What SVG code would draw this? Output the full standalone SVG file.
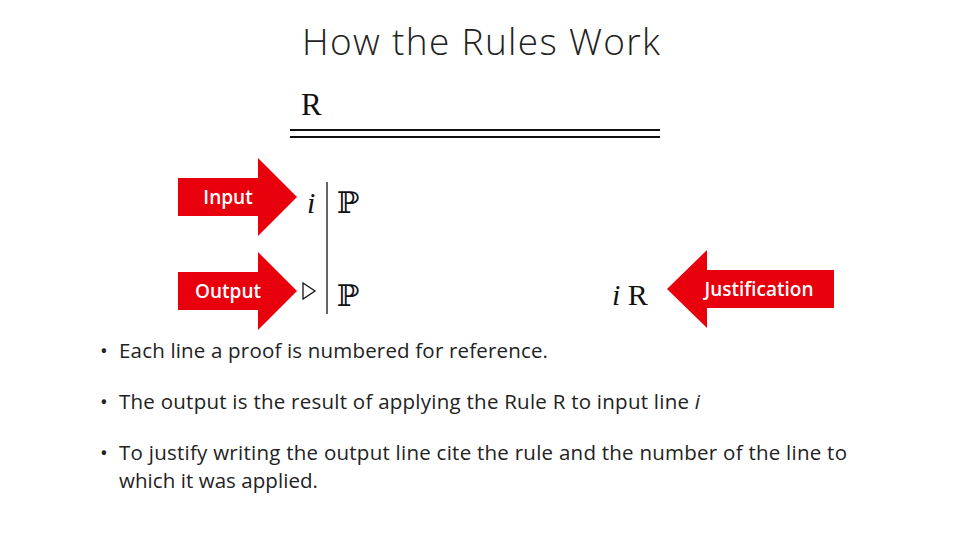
<svg xmlns="http://www.w3.org/2000/svg" width="960" height="540" viewBox="0 0 960 540">
<style>
.arrow{fill:#E8000D}
.lbl{font-family:"Open Sans","Liberation Sans",sans-serif;font-size:19px;font-weight:600;fill:#fff;text-anchor:middle}
.math{font-family:"Liberation Serif","DejaVu Serif",serif;fill:#111}
.body{font-family:"Open Sans","Liberation Sans",sans-serif;font-size:20.5px;fill:#222}
</style>
<rect width="960" height="540" fill="#fff"/>
<text x="481" y="55" text-anchor="middle" font-family="Open Sans, Liberation Sans, sans-serif" font-weight="300" font-size="37" fill="#222" textLength="358">How the Rules Work</text>
<g id="rule">
<text class="math" x="301" y="115" font-size="31">R</text>
<line x1="290" y1="130" x2="660" y2="130" stroke="#111" stroke-width="2"/>
<line x1="290" y1="137" x2="660" y2="137" stroke="#111" stroke-width="2"/>
</g>
<g id="proof">
<line x1="327" y1="182" x2="327" y2="314" stroke="#333" stroke-width="1.5"/>
<text class="math" x="307" y="213" font-size="30" font-style="italic">i</text>
<text class="math" x="337" y="213" font-size="30">ℙ</text>
<path d="M303 283 L315 291 L303 299 Z" fill="none" stroke="#111" stroke-width="1.3"/>
<text class="math" x="337" y="306" font-size="30">ℙ</text>
<text class="math" x="612" y="305" font-size="30"><tspan font-style="italic">i</tspan> R</text>
</g>
<g id="input">
<path class="arrow" d="M178 178 H258 V158 L297 197 L258 236 V216 H178 Z"/>
<text class="lbl" x="228" y="204">Input</text>
</g>
<g id="output">
<path class="arrow" d="M178 272 H258 V252 L297 291 L258 330 V310 H178 Z"/>
<text class="lbl" x="228" y="298">Output</text>
</g>
<g id="justification">
<path class="arrow" d="M834 270 H707 V250 L667 289 L707 328 V308 H834 Z"/>
<text class="lbl" x="759" y="296">Justification</text>
</g>
<g id="bullets">
<text class="body" x="100" y="358">•</text>
<text class="body" x="119" y="358" textLength="429">Each line a proof is numbered for reference.</text>
<text class="body" x="100" y="409">•</text>
<text class="body" x="119" y="409" textLength="581">The output is the result of applying the Rule R to input line <tspan font-style="italic">i</tspan></text>
<text class="body" x="100" y="460">•</text>
<text class="body" x="119" y="460" textLength="728">To justify writing the output line cite the rule and the number of the line to</text>
<text class="body" x="119" y="488" textLength="199">which it was applied.</text>
</g>
</svg>
